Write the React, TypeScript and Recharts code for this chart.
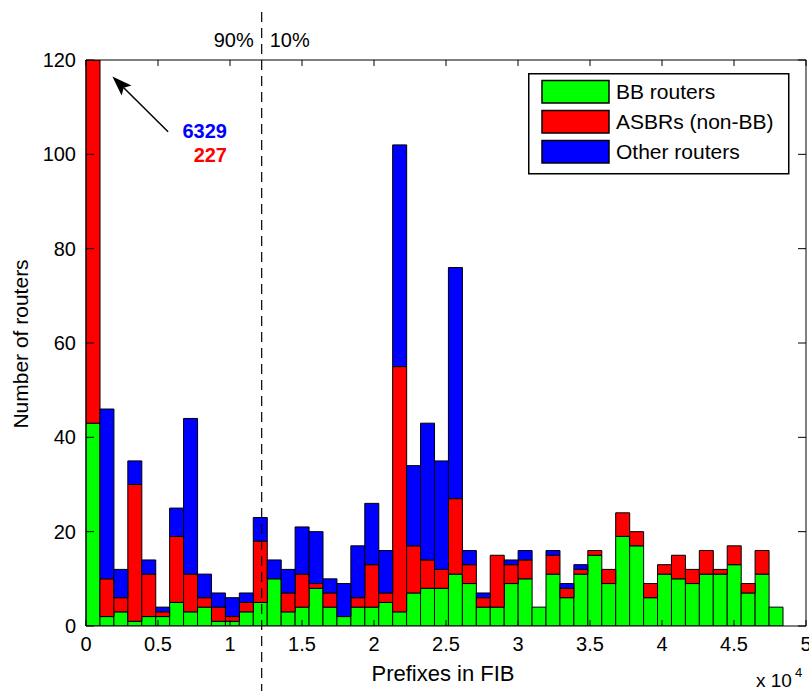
import React from 'react';
import { BarChart, Bar, XAxis, YAxis, ReferenceLine, Legend } from 'recharts';

const FONT = '"Liberation Sans", Arial, Helvetica, sans-serif';

// histogram bins: width in units of 10^4 prefixes
const BIN_WIDTH = 0.0968;

// counts per bin (green / red / blue stacks)
const bbRouters = [
  43, 2, 3, 1, 2, 2, 5, 3, 4, 1, 1, 3, 5, 10, 3, 4, 8, 4, 2, 4, 4, 5, 3, 7, 8,
  8, 11, 9, 4, 4, 9, 10, 4, 11, 6, 11, 15, 9, 19, 17, 6, 11, 10, 9, 11, 11, 13, 7, 11, 4,
];
const asbrRouters = [
  227, 8, 3, 29, 9, 1, 14, 8, 2, 3, 1, 2, 13, 0, 4, 7, 1, 3, 0, 2, 9, 2, 52, 10, 6,
  4, 16, 4, 2, 11, 4, 4, 0, 4, 2, 1, 1, 3, 5, 3, 3, 2, 5, 3, 5, 1, 4, 2, 5, 0,
];
const otherRouters = [
  6329, 36, 6, 5, 3, 1, 6, 33, 5, 3, 4, 2, 5, 4, 5, 10, 11, 3, 7, 11, 13, 9, 47, 17, 29,
  23, 49, 3, 1, 0, 1, 2, 0, 1, 1, 1, 0, 0, 0, 0, 0, 0, 0, 0, 0, 0, 0, 0, 0, 0,
];

const seriesNames = ['BB routers', 'ASBRs (non-BB)', 'Other routers'];
const seriesColors = ['#00ff00', '#ff0000', '#0000ff'];

const xTicks = [0, 0.5, 1, 1.5, 2, 2.5, 3, 3.5, 4, 4.5, 5];
const yTicks = [0, 20, 40, 60, 80, 100, 120];

const CUTOFF = 1.22; // 90% / 10% split

const rows = bbRouters.map((bb, i) => ({
  bin: String(Math.round((i + 0.5) * BIN_WIDTH * 10000)),
  center: (i + 0.5) * BIN_WIDTH,
  bb,
  asbr: asbrRouters[i],
  other: otherRouters[i],
}));

const PLOT_W = 720;
const catPadRight = PLOT_W * (1 - (rows.length * BIN_WIDTH) / 5);

const BottomTick = ({ x, y, payload }: any) => (
  <g>
    <line x1={x} x2={x} y1={y} y2={y - 6} stroke="#000" />
    <text x={x} y={y + 25} textAnchor="middle" fontSize={20} fontFamily={FONT} fill="#000">
      {String(payload.value)}
    </text>
  </g>
);

const TopTick = ({ x, y }: any) => <line x1={x} x2={x} y1={y} y2={y + 6} stroke="#000" />;

const LeftTick = ({ x, y, payload }: any) => (
  <g>
    <line x1={x} x2={x + 8} y1={y} y2={y} stroke="#000" />
    <text x={x - 10} y={y + 7} textAnchor="end" fontSize={20} fontFamily={FONT} fill="#000">
      {String(payload.value)}
    </text>
  </g>
);

const RightTick = ({ x, y }: any) => <line x1={x} x2={x - 8} y1={y} y2={y} stroke="#000" />;

const CutoffLine = (p: any) => (
  <g>
    <line x1={p.x1} x2={p.x1} y1={12} y2={691} stroke="#000" strokeWidth={1.2} strokeDasharray="10 6" />
    <text x={p.x1 - 8} y={47} textAnchor="end" fontSize={20} fontFamily={FONT} fill="#000">90%</text>
    <text x={p.x1 + 8} y={47} textAnchor="start" fontSize={20} fontFamily={FONT} fill="#000">10%</text>
  </g>
);

const Arrow = (p: any) => {
  const dx = p.x2 - p.x1;
  const dy = p.y2 - p.y1;
  const len = Math.sqrt(dx * dx + dy * dy);
  const ux = dx / len;
  const uy = dy / len;
  const head = 20;
  const half = 7;
  const bx = p.x2 - ux * head;
  const by = p.y2 - uy * head;
  const pts = [
    `${p.x2},${p.y2}`,
    `${bx - uy * half},${by + ux * half}`,
    `${bx + ux * 4},${by + uy * 4}`,
    `${bx + uy * half},${by - ux * half}`,
  ].join(' ');
  return (
    <g>
      <line x1={p.x1} y1={p.y1} x2={bx + ux * 4} y2={by + uy * 4} stroke="#000" strokeWidth={1.5} />
      <polygon points={pts} fill="#000" />
    </g>
  );
};

const LegendBox = () => (
  <svg width={263} height={102}>
    <rect x={0.75} y={0.75} width={260} height={100} fill="#fff" stroke="#000" strokeWidth={1.5} />
    {seriesNames.map((name, i) => (
      <g key={name}>
        <rect x={14} y={7.5 + i * 30} width={67} height={22.5} fill={seriesColors[i]} stroke="#000" strokeWidth={1.5} />
        <text x={88} y={26 + i * 30} fontSize={21} fontFamily={FONT} fill="#000">
          {name}
        </text>
      </g>
    ))}
  </svg>
);

export default function App() {
  return (
    <div style={{ width: 809, height: 691, background: '#fff' }}>
      <style>{'body { margin: 0; }'}</style>
      <BarChart
        width={809}
        height={691}
        data={rows}
        margin={{ top: 59, right: 2, bottom: 0, left: 0 }}
        barCategoryGap={0}
        barGap={0}
      >
        <XAxis
          xAxisId="num"
          dataKey="center"
          type="number"
          domain={[0, 5]}
          ticks={xTicks}
          interval={0}
          allowDataOverflow
          height={65}
          axisLine={{ stroke: '#000' }}
          tickLine={false}
          tickSize={0}
          tickMargin={0}
          tick={<BottomTick />}
        />
        <XAxis
          xAxisId="cat"
          dataKey="bin"
          type="category"
          hide
          height={0}
          padding={{ left: 0, right: catPadRight }}
        />
        <XAxis
          xAxisId="top"
          dataKey="center"
          orientation="top"
          type="number"
          domain={[0, 5]}
          ticks={xTicks}
          interval={0}
          allowDataOverflow
          height={1}
          axisLine={{ stroke: '#000' }}
          tickLine={false}
          tickSize={0}
          tickMargin={0}
          tick={<TopTick />}
        />
        <YAxis
          yAxisId="left"
          domain={[0, 120]}
          ticks={yTicks}
          interval={0}
          allowDataOverflow
          width={86}
          axisLine={{ stroke: '#000' }}
          tickLine={false}
          tickSize={0}
          tickMargin={0}
          tick={<LeftTick />}
        />
        <YAxis
          yAxisId="right"
          orientation="right"
          domain={[0, 120]}
          ticks={yTicks}
          interval={0}
          allowDataOverflow
          width={1}
          axisLine={{ stroke: '#000' }}
          tickLine={false}
          tickSize={0}
          tickMargin={0}
          tick={<RightTick />}
        />
        <Bar dataKey="bb" name={seriesNames[0]} stackId="r" xAxisId="cat" yAxisId="left"
          fill={seriesColors[0]} stroke="#000" strokeWidth={1} isAnimationActive={false} />
        <Bar dataKey="asbr" name={seriesNames[1]} stackId="r" xAxisId="cat" yAxisId="left"
          fill={seriesColors[1]} stroke="#000" strokeWidth={1} isAnimationActive={false} />
        <Bar dataKey="other" name={seriesNames[2]} stackId="r" xAxisId="cat" yAxisId="left"
          fill={seriesColors[2]} stroke="#000" strokeWidth={1} isAnimationActive={false} />
        <ReferenceLine xAxisId="num" yAxisId="left" x={CUTOFF} shape={CutoffLine} />
        <ReferenceLine
          xAxisId="num"
          yAxisId="left"
          segment={[{ x: 0.57, y: 104.8 }, { x: 0.183, y: 116.5 }]}
          shape={Arrow}
        />
        <Legend
          layout="horizontal"
          verticalAlign="middle"
          align="center"
          content={<LegendBox />}
          wrapperStyle={{ top: 73, left: 528, width: 263, height: 102 }}
        />
        {/* annotations for the clipped first bin */}
        <text x={227} y={138} textAnchor="end" fontSize={20} fontWeight="bold" fontFamily={FONT} fill="#0000ff">
          6329
        </text>
        <text x={227} y={162} textAnchor="end" fontSize={20} fontWeight="bold" fontFamily={FONT} fill="#ff0000">
          227
        </text>
        {/* axis titles */}
        <text x={28} y={344} transform="rotate(-90 28 344)" textAnchor="middle" fontSize={21} fontFamily={FONT} fill="#000">
          Number of routers
        </text>
        <text x={443} y={681} textAnchor="middle" fontSize={22} fontFamily={FONT} fill="#000">
          Prefixes in FIB
        </text>
        <text x={756} y={687} fontSize={19} fontFamily={FONT} fill="#000">x 10</text>
        <text x={795} y={677} fontSize={13} fontFamily={FONT} fill="#000">4</text>
      </BarChart>
    </div>
  );
}
